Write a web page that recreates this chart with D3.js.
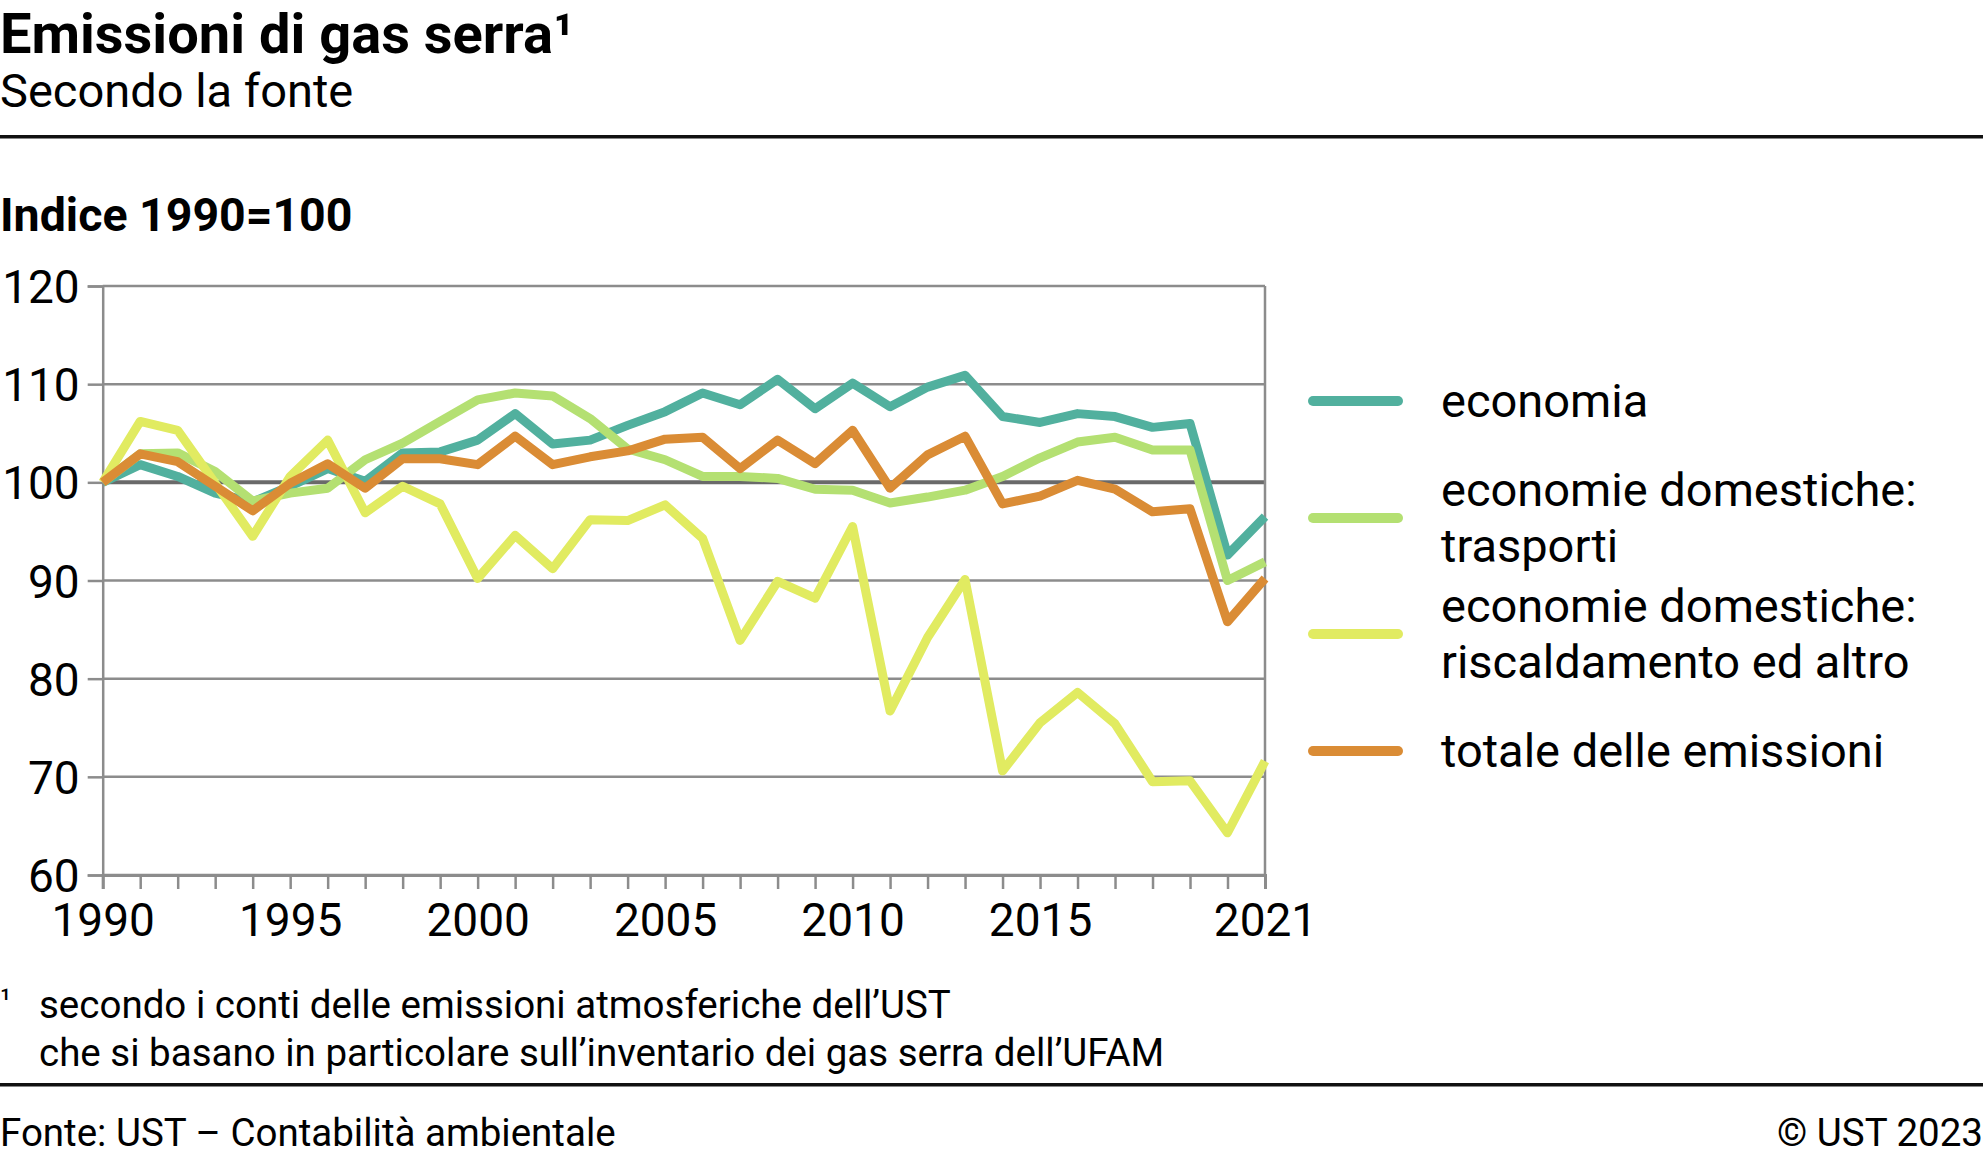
<!DOCTYPE html>
<html>
<head>
<meta charset="utf-8">
<script src="https://cdn.jsdelivr.net/npm/d3@7"></script>
<style>
  html, body { margin: 0; padding: 0; background: #fff; }
  svg { display: block; font-family: Roboto, "Noto Sans", sans-serif; }
</style>
</head>
<body>
<svg id="chart" width="1983" height="1161"></svg>
<script>
// values (index 1990=100)
var years = [1990, 1991, 1992, 1993, 1994, 1995, 1996, 1997, 1998, 1999, 2000, 2001, 2002, 2003, 2004, 2005,
             2006, 2007, 2008, 2009, 2010, 2011, 2012, 2013, 2014, 2015, 2016, 2017, 2018, 2019, 2020, 2021];

var economia = [100, 101.8, 100.6, 98.9, 98.0, 99.6, 101.4, 100.1, 103.0, 103.1, 104.3, 107.0, 103.9, 104.3, 105.8, 107.2,
                109.1, 107.9, 110.5, 107.5, 110.1, 107.7, 109.7, 110.9, 106.7, 106.1, 107.0, 106.7, 105.6, 106.0, 92.6, 96.5];
var trasporti = [100, 102.9, 103.0, 101.1, 98.1, 98.9, 99.4, 102.3, 104.0, 106.2, 108.4, 109.1, 108.8, 106.5, 103.4, 102.3,
                 100.6, 100.6, 100.4, 99.3, 99.2, 97.9, 98.5, 99.2, 100.6, 102.5, 104.1, 104.6, 103.3, 103.3, 90.0, 91.9];
var riscaldamento = [100, 106.2, 105.3, 99.9, 94.5, 100.6, 104.3, 96.9, 99.6, 97.8, 90.2, 94.6, 91.2, 96.2, 96.1, 97.7,
                     94.3, 83.9, 89.9, 88.2, 95.5, 76.7, 84.2, 90.1, 70.6, 75.5, 78.6, 75.4, 69.5, 69.6, 64.3, 71.6];
var totale = [100, 102.9, 102.1, 99.6, 97.1, 99.9, 101.9, 99.4, 102.4, 102.4, 101.8, 104.7, 101.8, 102.6, 103.2, 104.4,
              104.6, 101.4, 104.3, 101.9, 105.3, 99.4, 102.8, 104.7, 97.8, 98.6, 100.2, 99.3, 97.0, 97.3, 85.8, 90.2];

var seriesNames = [["economia"], ["economie domestiche:", "trasporti"],
                   ["economie domestiche:", "riscaldamento ed altro"], ["totale delle emissioni"]];
var seriesColors = ["#51b09e", "#b4e072", "#e1eb61", "#da8c35"];
var seriesValues = [economia, trasporti, riscaldamento, totale];

var yTicks = [60, 70, 80, 90, 100, 110, 120];
var xLabelYears = [1990, 1995, 2000, 2005, 2010, 2015, 2021];

var svg = d3.select("#chart");
var W = 1983;

var x = d3.scaleLinear().domain([1990, 2021]).range([102.7, 1265]);
var y = d3.scaleLinear().domain([60, 120]).range([875, 286]);

// header
svg.append("text").attr("x", 0).attr("y", 53)
    .attr("font-size", 56).attr("font-weight", "bold").attr("fill", "#000")
    .text("Emissioni di gas serra¹");
svg.append("text").attr("x", 0).attr("y", 107)
    .attr("font-size", 47).attr("fill", "#000")
    .text("Secondo la fonte");
svg.append("rect").attr("x", 0).attr("y", 135).attr("width", W).attr("height", 3.5).attr("fill", "#111");

svg.append("text").attr("x", 0).attr("y", 231)
    .attr("font-size", 46.5).attr("font-weight", "bold").attr("fill", "#000")
    .text("Indice 1990=100");

// grid
var g = svg.append("g");
g.selectAll(".grid").data(yTicks).enter().append("line")
    .attr("x1", x(1990)).attr("x2", x(2021))
    .attr("y1", function(d) { return y(d); })
    .attr("y2", function(d) { return y(d); })
    .attr("stroke", function(d) { return d == 100 ? "#6a6a6a" : "#8c8c8c"; })
    .attr("stroke-width", function(d) { return d == 100 ? 4 : 2.5; });

// right border
g.append("line").attr("x1", x(2021)).attr("x2", x(2021)).attr("y1", y(120)).attr("y2", y(60))
    .attr("stroke", "#8c8c8c").attr("stroke-width", 2.5);

// y axis
var yAxis = g.append("g")
    .call(d3.axisLeft(y).tickValues(yTicks).tickSize(15).tickPadding(8));
yAxis.select(".domain").attr("stroke", "#8c8c8c").attr("stroke-width", 2.5);
yAxis.selectAll(".tick line").attr("stroke", "#8c8c8c").attr("stroke-width", 2.5);
yAxis.selectAll(".tick text").attr("font-size", 46).attr("fill", "#000")
    .attr("font-family", "Roboto, sans-serif").attr("dy", "0.36em");
yAxis.attr("transform", "translate(" + x(1990) + ",0)");

// x axis
var xAxis = g.append("g").attr("transform", "translate(0," + y(60) + ")")
    .call(d3.axisBottom(x).tickValues(years).tickSize(14).tickPadding(14)
        .tickFormat(function(d) { return xLabelYears.indexOf(d) >= 0 ? d : ""; }));
xAxis.select(".domain").attr("stroke", "#8c8c8c").attr("stroke-width", 3);
xAxis.selectAll(".tick line").attr("stroke", "#8c8c8c").attr("stroke-width", 2.5);
xAxis.selectAll(".tick text").attr("font-size", 46).attr("fill", "#000")
    .attr("font-family", "Roboto, sans-serif");

// lines
var line = d3.line()
    .x(function(d, i) { return x(years[i]); })
    .y(function(d) { return y(d); });

svg.append("g").selectAll(".serie").data(seriesValues).enter().append("path")
    .attr("d", line)
    .attr("fill", "none")
    .attr("stroke", function(d, i) { return seriesColors[i]; })
    .attr("stroke-width", 9)
    .attr("stroke-linejoin", "round");

// legend
var legendY = [401, 518, 634, 751];
var leg = svg.append("g").selectAll(".leg").data(seriesNames).enter().append("g")
    .attr("transform", function(d, i) { return "translate(0," + legendY[i] + ")"; });
leg.append("line").attr("x1", 1313).attr("x2", 1398).attr("y1", 0).attr("y2", 0)
    .attr("stroke", function(d, i) { return seriesColors[i]; })
    .attr("stroke-width", 10).attr("stroke-linecap", "round");
leg.each(function(d) {
    var t = d3.select(this).append("text").attr("font-size", 47).attr("fill", "#000");
    var first = d.length == 1 ? 16 : -12;
    d.forEach(function(s, k) {
        t.append("tspan").attr("x", 1441).attr("y", first + k * 56).text(s);
    });
});

// footnote
svg.append("text").attr("x", 0).attr("y", 1010).attr("font-size", 30).attr("fill", "#000").text("¹");
svg.append("text").attr("x", 39).attr("y", 1018).attr("font-size", 38.5).attr("fill", "#000")
    .text("secondo i conti delle emissioni atmosferiche dell’UST");
svg.append("text").attr("x", 39).attr("y", 1066).attr("font-size", 38.5).attr("fill", "#000")
    .text("che si basano in particolare sull’inventario dei gas serra dell’UFAM");

svg.append("rect").attr("x", 0).attr("y", 1083).attr("width", W).attr("height", 3.5).attr("fill", "#111");

svg.append("text").attr("x", 0).attr("y", 1146).attr("font-size", 38.5).attr("fill", "#000")
    .text("Fonte: UST – Contabilità ambientale");
svg.append("text").attr("x", W).attr("y", 1146).attr("font-size", 38.5).attr("fill", "#000")
    .attr("text-anchor", "end").text("© UST 2023");
</script>
</body>
</html>
